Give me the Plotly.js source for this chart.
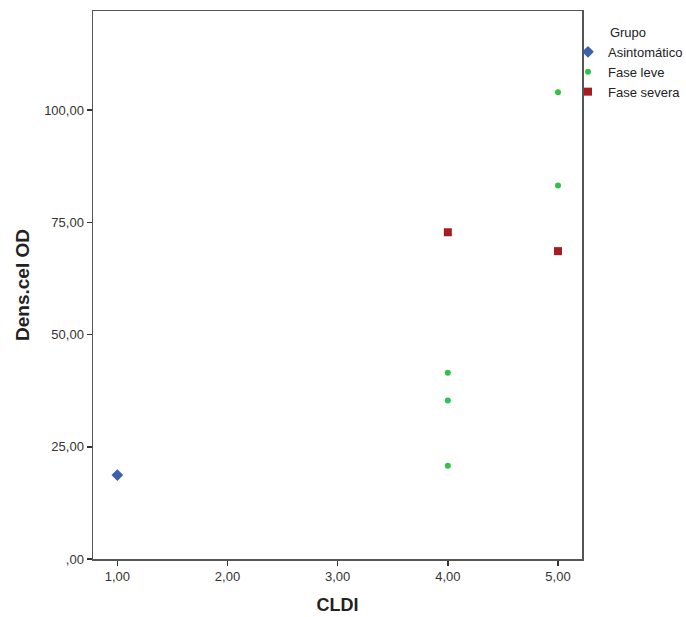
<!DOCTYPE html>
<html>
<head>
<meta charset="utf-8">
<script src="https://cdn.plot.ly/plotly-3.0.1.min.js"></script>
<style>html,body{margin:0;padding:0;background:#fff;}#chart{width:686px;height:617px;}</style>
</head>
<body>
<div id="chart"></div>
<script>
const groups = ["Asintomático", "Fase leve", "Fase severa"];
const asintX = [1];
const asintY = [18.7];
const leveX = [4, 4, 4, 5, 5];
const leveY = [41.5, 35.3, 20.8, 104.0, 83.2];
const severaX = [4, 5];
const severaY = [72.8, 68.6];
const xTicks = [1, 2, 3, 4, 5];
const xTickLabels = ["1,00", "2,00", "3,00", "4,00", "5,00"];
const yTicks = [0, 25, 50, 75, 100];
const yTickLabels = [",00", "25,00", "50,00", "75,00", "100,00"];

const traces = [
  {x: asintX, y: asintY, name: groups[0], type: "scatter", mode: "markers",
   marker: {symbol: "diamond", size: 9, color: "#3d5fb0"}},
  {x: leveX, y: leveY, name: groups[1], type: "scatter", mode: "markers",
   marker: {symbol: "circle", size: 6, color: "#30c24a"}},
  {x: severaX, y: severaY, name: groups[2], type: "scatter", mode: "markers",
   marker: {symbol: "square", size: 8, color: "#a51d22"}}
];

const axisCommon = {
  showline: true, mirror: true, linecolor: "#555", linewidth: 1.5,
  ticks: "outside", ticklen: 5, tickcolor: "#333", tickwidth: 1.5,
  showgrid: false, zeroline: false,
  tickfont: {family: "Liberation Sans, Arial, sans-serif", size: 13, color: "#333"}
};

const layout = {
  width: 686, height: 617,
  margin: {l: 93, r: 104, t: 11, b: 58, autoexpand: false},
  paper_bgcolor: "#fff", plot_bgcolor: "#fff",
  font: {family: "Liberation Sans, Arial, sans-serif", color: "#222"},
  xaxis: Object.assign({}, axisCommon, {
    range: [0.779, 5.218], tickvals: xTicks, ticktext: xTickLabels,
    title: {text: "<b>CLDI</b>", font: {size: 18, color: "#222"}, standoff: 15}
  }),
  yaxis: Object.assign({}, axisCommon, {
    range: [0, 122.1], tickvals: yTicks, ticktext: yTickLabels,
    title: {text: "<b>Dens.cel OD</b>", font: {size: 19, color: "#222"}, standoff: 9}
  }),
  showlegend: true,
  legend: {
    xref: "container", yref: "container",
    x: 568 / 686, xanchor: "left", y: 1 - 20 / 617, yanchor: "top",
    font: {size: 13, color: "#222"},
    title: {text: "Grupo", side: "top center", font: {size: 13, color: "#222"}},
    itemwidth: 30,
    bgcolor: "rgba(0,0,0,0)"
  }
};

Plotly.newPlot("chart", traces, layout, {displayModeBar: false, staticPlot: true});
</script>
</body>
</html>
